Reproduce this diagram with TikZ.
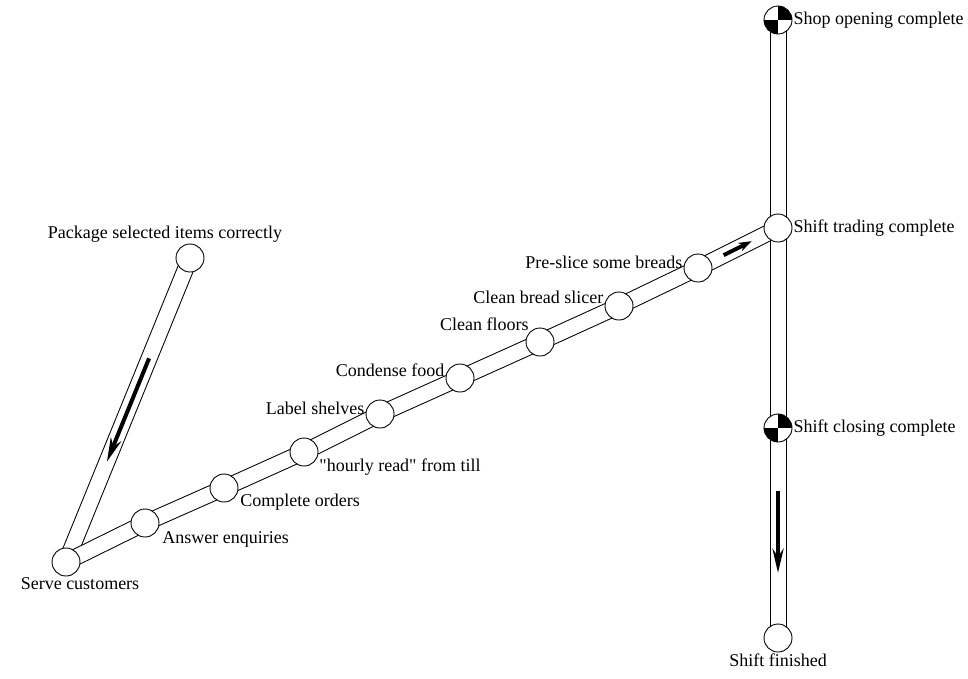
\documentclass[tikz,border=0pt]{standalone}
\usepackage{fontspec}
\setmainfont{Liberation Serif}
\usetikzlibrary{arrows.meta,backgrounds,calc}

\tikzset{
  task/.style={circle,draw,fill=white,minimum size=28pt,inner sep=0pt,line width=0.9pt},
  milestone/.style={task,path picture={
      \fill[black] (path picture bounding box.center) rectangle (path picture bounding box.north east);
      \fill[black] (path picture bounding box.center) rectangle (path picture bounding box.south west);}},
  tube/.style={line width=1pt,double=white,double distance=15pt},
  flow/.style={line width=4pt,-{Stealth[length=24pt,width=11pt]}},
  every label/.style={inner sep=1pt,font=\fontsize{18}{20}\selectfont}
}

\begin{document}
\begin{tikzpicture}[x=1pt,y=-1pt]

\useasboundingbox (0,0) rectangle (968,678);

% milestones and tasks
\node[milestone] (open) at (778,20) [label=right:Shop opening complete] {};
\node[task] (trade) at (778,228) [label=right:Shift trading complete] {};
\node[milestone] (close) at (778,428) [label=right:Shift closing complete] {};
\node[task] (done) at (778,638) [label=below:Shift finished] {};

\node[task] (pkg) at (190,258) [label={[xshift=-25pt]above:Package selected items correctly}] {};
\node[task] (serve) at (66,562) [label={[xshift=14pt]below:Serve customers}] {};

\node[task] (enq) at (145,523) [label={[xshift=6pt,yshift=3pt]below right:Answer enquiries}] {};
\node[task] (orders) at (224,488) [label={[xshift=5pt,yshift=5pt]below right:Complete orders}] {};
\node[task] (read) at (304,452) [label={[xshift=4pt,yshift=5pt]below right:\textquotedbl hourly read\textquotedbl{} from till}] {};
\node[task] (shelves) at (380,414) [label={[yshift=6pt]left:Label shelves}] {};
\node[task] (food) at (460,378) [label={[yshift=8pt]left:Condense food}] {};
\node[task] (floors) at (540,342) [label=above left:Clean floors] {};
\node[task] (slicer) at (619,306) [label={[yshift=9pt]left:Clean bread slicer}] {};
\node[task] (slice) at (698,268) [label={[yshift=6pt]left:Pre-slice some breads}] {};

\begin{scope}[on background layer]
\draw[tube] (pkg.center) -- (serve.center);
\draw[tube] (serve.center) -- (enq.center) -- (orders.center) -- (read.center)
  -- (shelves.center) -- (food.center) -- (floors.center) -- (slicer.center)
  -- (slice.center) -- (trade.center);
\draw[tube] (open.center) -- (trade.center) -- (close.center) -- (done.center);
\end{scope}

% direction of flow
\draw[flow] ($(pkg)!0.33!(serve)$) -- ($(pkg)!0.67!(serve)$);
\draw[flow,-{Stealth[length=13pt,width=9pt]}] ($(slice)!0.32!(trade)$) -- ($(slice)!0.67!(trade)$);
\draw[flow] ($(close)!0.3!(done)$) -- ($(close)!0.69!(done)$);

\end{tikzpicture}
\end{document}
